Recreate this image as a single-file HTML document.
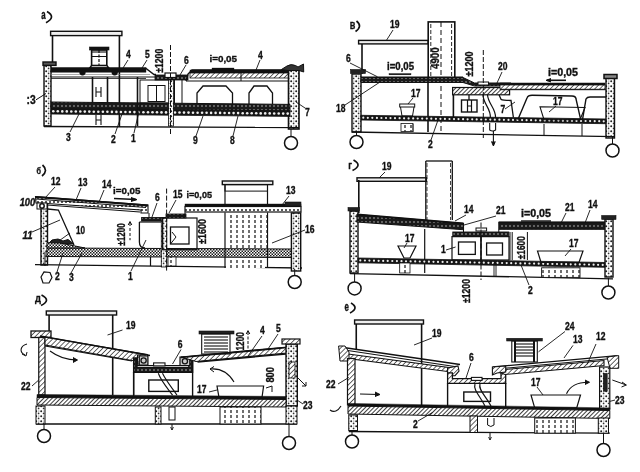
<!DOCTYPE html>
<html><head><meta charset="utf-8"><style>
html,body{margin:0;padding:0;background:#fff;}
svg{display:block;will-change:transform;}
text{font-family:"Liberation Sans",sans-serif;fill:#111;stroke:#111;stroke-width:0.35px;}
</style></head><body>
<svg width="640" height="472" viewBox="0 0 640 472">
<rect width="640" height="472" fill="#fff"/>

<defs>
<pattern id="hatch" width="3.5" height="3.5" patternUnits="userSpaceOnUse" patternTransform="rotate(45)">
 <rect width="3.5" height="3.5" fill="#fff"/><line x1="0" y1="0" x2="0" y2="3.5" stroke="#222" stroke-width="1.4"/>
</pattern>
<pattern id="hatchd" width="3" height="3" patternUnits="userSpaceOnUse" patternTransform="rotate(45)">
 <rect width="3" height="3" fill="#fff"/><line x1="0" y1="0" x2="0" y2="3" stroke="#1a1a1a" stroke-width="1.7"/>
</pattern>
<pattern id="chk" width="3" height="3" patternUnits="userSpaceOnUse">
 <rect width="3" height="3" fill="#fff"/><rect width="1.5" height="1.5" fill="#1a1a1a"/><rect x="1.5" y="1.5" width="1.5" height="1.5" fill="#1a1a1a"/>
</pattern>
<pattern id="conc" width="5" height="5" patternUnits="userSpaceOnUse">
 <rect width="5" height="5" fill="#fff"/><circle cx="1.2" cy="1.3" r="1.0" fill="#222"/><circle cx="3.6" cy="3.4" r="0.85" fill="#333"/><circle cx="3.9" cy="0.9" r="0.5" fill="#444"/>
</pattern>
<pattern id="darkdots" width="4" height="4" patternUnits="userSpaceOnUse">
 <rect width="4" height="4" fill="#1a1a1a"/><circle cx="2" cy="2" r="0.8" fill="#bbb"/>
</pattern>
<pattern id="dots" width="4" height="4" patternUnits="userSpaceOnUse">
 <rect width="4" height="4" fill="#fff"/><circle cx="2" cy="2" r="1" fill="#222"/>
</pattern>
<pattern id="vdash" width="6" height="5" patternUnits="userSpaceOnUse">
 <rect width="6" height="5" fill="#fff"/><line x1="3" y1="0" x2="3" y2="3" stroke="#222" stroke-width="1.3"/>
</pattern>
</defs>
<text x="0" y="0" font-size="12.125" font-weight="bold" text-anchor="start" transform="translate(41.3 19.3) scale(0.65 1)" style="">a</text>
<path d="M47,11.5 Q56.5,16.9 46,22.8" stroke="#111" stroke-width="1.7" fill="none"/>
<rect x="50.6" y="31.3" width="71.3" height="4.3" fill="#eee" stroke="#111" stroke-width="1.4"/>
<line x1="52.5" y1="35.6" x2="52.5" y2="64" stroke="#111" stroke-width="1.6"/>
<line x1="119.4" y1="35.6" x2="119.4" y2="127" stroke="#111" stroke-width="1.6"/>
<rect x="89.5" y="47" width="19.5" height="3" fill="#111" stroke="#111" stroke-width="0.6"/>
<rect x="91.6" y="50" width="15.2" height="15.5" fill="none" stroke="#111" stroke-width="1.6"/>
<path d="M91.6,65.5 L89.5,68 L109,68 L106.8,65.5" stroke="#111" stroke-width="1.3" fill="none"/>
<line x1="99" y1="50" x2="99" y2="65.5" stroke="#111" stroke-width="1.2" stroke-dasharray="3,1.5"/>
<line x1="92" y1="52" x2="106.5" y2="52" stroke="#111" stroke-width="1.1"/>
<line x1="92" y1="56.5" x2="106.5" y2="56.5" stroke="#111" stroke-width="1"/>
<line x1="92.5" y1="77" x2="92.5" y2="102.5" stroke="#111" stroke-width="1.6"/>
<line x1="107.5" y1="77" x2="107.5" y2="102.5" stroke="#111" stroke-width="1.6"/>
<line x1="96" y1="87" x2="96" y2="97" stroke="#111" stroke-width="1.1"/>
<line x1="101" y1="87" x2="101" y2="97" stroke="#111" stroke-width="1.1"/>
<line x1="96" y1="92" x2="101" y2="92" stroke="#111" stroke-width="1"/>
<line x1="96" y1="115" x2="96" y2="125" stroke="#111" stroke-width="1.1"/>
<line x1="101" y1="115" x2="101" y2="125" stroke="#111" stroke-width="1.1"/>
<line x1="96" y1="120" x2="101" y2="120" stroke="#111" stroke-width="1"/>
<rect x="44" y="65" width="7" height="61" fill="url(#conc)" stroke="#111" stroke-width="1.4"/>
<rect x="43" y="62" width="13" height="3.4" fill="#555" stroke="#111" stroke-width="1.4"/>
<polyline points="51,68.5 146,68.5 154,74.5 156,74.5" stroke="#111" stroke-width="1.4" fill="none"/>
<rect x="51" y="67.6" width="95" height="4.6" fill="#111" stroke="#111" stroke-width="0.4"/>
<line x1="51" y1="74.5" x2="150" y2="74.5" stroke="#777" stroke-width="0.6"/>
<line x1="51" y1="77" x2="156" y2="77" stroke="#111" stroke-width="1.2"/>
<circle cx="82.5" cy="72.3" r="2.4" stroke="#111" stroke-width="1.5" fill="#111"/>
<circle cx="114.7" cy="72.3" r="2.4" stroke="#111" stroke-width="1.5" fill="#111"/>
<rect x="155" y="75" width="33" height="5" fill="url(#darkdots)" stroke="#111" stroke-width="0.8"/>
<rect x="165" y="73" width="11" height="4.5" fill="#fff" stroke="#111" stroke-width="1.2"/>
<polyline points="186,81 188,74 192,70 289,70" stroke="#111" stroke-width="1.4" fill="none"/>
<rect x="190" y="70" width="99" height="3" fill="#111" stroke="#111" stroke-width="0.4"/>
<rect x="190" y="73" width="99" height="5" fill="url(#hatch)" stroke="#111" stroke-width="0.8"/>
<line x1="186" y1="81" x2="290" y2="81" stroke="#111" stroke-width="1.2"/>
<line x1="241" y1="72" x2="241" y2="81" stroke="#111" stroke-width="1"/>
<rect x="288.5" y="69.5" width="10.5" height="59.5" fill="url(#conc)" stroke="#111" stroke-width="1.6"/>
<path d="M281.4,69.5 L287,66 Q291,63.5 295.5,65.5 L298,67 L303.5,64 L303.7,72 L299,70.5 L288,70.5 Z" stroke="#111" stroke-width="1" fill="#333"/>
<line x1="51" y1="78.5" x2="146" y2="78.5" stroke="#111" stroke-width="0.8"/>
<polygon points="51,102 290,104.4 290,110.9 51,108.5" fill="url(#darkdots)" stroke="#111" stroke-width="1"/>
<polygon points="51,108.5 290,110.9 290,116.4 51,114.0" fill="#151515" stroke="#111" stroke-width="0.8"/>
<circle cx="53.3" cy="111.3" r="1.3" fill="#eee"/>
<circle cx="57.8" cy="111.3" r="1.3" fill="#eee"/>
<circle cx="62.3" cy="111.4" r="1.3" fill="#eee"/>
<circle cx="66.8" cy="111.4" r="1.3" fill="#eee"/>
<circle cx="71.3" cy="111.5" r="1.3" fill="#eee"/>
<circle cx="75.8" cy="111.5" r="1.3" fill="#eee"/>
<circle cx="80.3" cy="111.5" r="1.3" fill="#eee"/>
<circle cx="84.8" cy="111.6" r="1.3" fill="#eee"/>
<circle cx="89.3" cy="111.6" r="1.3" fill="#eee"/>
<circle cx="93.8" cy="111.7" r="1.3" fill="#eee"/>
<circle cx="98.3" cy="111.7" r="1.3" fill="#eee"/>
<circle cx="102.9" cy="111.8" r="1.3" fill="#eee"/>
<circle cx="107.4" cy="111.8" r="1.3" fill="#eee"/>
<circle cx="111.9" cy="111.9" r="1.3" fill="#eee"/>
<circle cx="116.4" cy="111.9" r="1.3" fill="#eee"/>
<circle cx="120.9" cy="112.0" r="1.3" fill="#eee"/>
<circle cx="125.4" cy="112.0" r="1.3" fill="#eee"/>
<circle cx="129.9" cy="112.0" r="1.3" fill="#eee"/>
<circle cx="134.4" cy="112.1" r="1.3" fill="#eee"/>
<circle cx="138.9" cy="112.1" r="1.3" fill="#eee"/>
<circle cx="143.4" cy="112.2" r="1.3" fill="#eee"/>
<circle cx="148.0" cy="112.2" r="1.3" fill="#eee"/>
<circle cx="152.5" cy="112.3" r="1.3" fill="#eee"/>
<circle cx="157.0" cy="112.3" r="1.3" fill="#eee"/>
<circle cx="161.5" cy="112.4" r="1.3" fill="#eee"/>
<circle cx="166.0" cy="112.4" r="1.3" fill="#eee"/>
<circle cx="170.5" cy="112.5" r="1.3" fill="#eee"/>
<circle cx="175.0" cy="112.5" r="1.3" fill="#eee"/>
<circle cx="179.5" cy="112.5" r="1.3" fill="#eee"/>
<circle cx="184.0" cy="112.6" r="1.3" fill="#eee"/>
<circle cx="188.5" cy="112.6" r="1.3" fill="#eee"/>
<circle cx="193.0" cy="112.7" r="1.3" fill="#eee"/>
<circle cx="197.6" cy="112.7" r="1.3" fill="#eee"/>
<circle cx="202.1" cy="112.8" r="1.3" fill="#eee"/>
<circle cx="206.6" cy="112.8" r="1.3" fill="#eee"/>
<circle cx="211.1" cy="112.9" r="1.3" fill="#eee"/>
<circle cx="215.6" cy="112.9" r="1.3" fill="#eee"/>
<circle cx="220.1" cy="112.9" r="1.3" fill="#eee"/>
<circle cx="224.6" cy="113.0" r="1.3" fill="#eee"/>
<circle cx="229.1" cy="113.0" r="1.3" fill="#eee"/>
<circle cx="233.6" cy="113.1" r="1.3" fill="#eee"/>
<circle cx="238.1" cy="113.1" r="1.3" fill="#eee"/>
<circle cx="242.7" cy="113.2" r="1.3" fill="#eee"/>
<circle cx="247.2" cy="113.2" r="1.3" fill="#eee"/>
<circle cx="251.7" cy="113.3" r="1.3" fill="#eee"/>
<circle cx="256.2" cy="113.3" r="1.3" fill="#eee"/>
<circle cx="260.7" cy="113.4" r="1.3" fill="#eee"/>
<circle cx="265.2" cy="113.4" r="1.3" fill="#eee"/>
<circle cx="269.7" cy="113.4" r="1.3" fill="#eee"/>
<circle cx="274.2" cy="113.5" r="1.3" fill="#eee"/>
<circle cx="278.7" cy="113.5" r="1.3" fill="#eee"/>
<circle cx="283.2" cy="113.6" r="1.3" fill="#eee"/>
<circle cx="287.7" cy="113.6" r="1.3" fill="#eee"/>
<line x1="44" y1="126.5" x2="299" y2="127.5" stroke="#111" stroke-width="1.3"/>
<line x1="137.5" y1="77" x2="137.5" y2="126" stroke="#111" stroke-width="1.6"/>
<rect x="140" y="80" width="34.5" height="23" fill="none" stroke="#111" stroke-width="1"/>
<rect x="148" y="85.5" width="17" height="16" fill="none" stroke="#111" stroke-width="1"/>
<line x1="156.5" y1="85.5" x2="156.5" y2="101.5" stroke="#111" stroke-width="1"/>
<rect x="168.5" y="80" width="5" height="46" fill="url(#conc)" stroke="#111" stroke-width="0.8"/>
<line x1="170.5" y1="45" x2="170.5" y2="136" stroke="#111" stroke-width="1" stroke-dasharray="5,2"/>
<line x1="182" y1="80" x2="182" y2="103" stroke="#111" stroke-width="1"/>
<path d="M197,104 L197,93 L203,86 L226,86 L232.5,93 L232.5,104" stroke="#111" stroke-width="1.3" fill="none"/>
<path d="M249,104 L249,93 L254,86 L267,86 L272.5,93 L272.5,104" stroke="#111" stroke-width="1.3" fill="none"/>
<line x1="291" y1="129" x2="291" y2="136.5" stroke="#111" stroke-width="1"/>
<circle cx="291" cy="143" r="6.5" stroke="#111" stroke-width="1.5" fill="none"/>
<rect x="212" y="68" width="22" height="2" fill="#111" stroke="#111" stroke-width="0.3"/>
<text x="0" y="0" font-size="12.125" font-weight="bold" text-anchor="start" transform="translate(26.5 103.6) scale(0.85 1)" style="">:3</text>
<line x1="36" y1="99.8" x2="46" y2="93.5" stroke="#111" stroke-width="1"/>
<text x="0" y="0" font-size="10.67" font-weight="bold" text-anchor="start" transform="translate(66 141) scale(0.8 1)" style="">3</text>
<line x1="70" y1="132" x2="79" y2="114" stroke="#111" stroke-width="0.9"/>
<text x="0" y="0" font-size="10.67" font-weight="bold" text-anchor="start" transform="translate(111 143) scale(0.8 1)" style="">2</text>
<line x1="115" y1="134" x2="122" y2="114" stroke="#111" stroke-width="0.9"/>
<text x="0" y="0" font-size="10.67" font-weight="bold" text-anchor="start" transform="translate(131 142) scale(0.8 1)" style="">1</text>
<line x1="134" y1="133" x2="141" y2="103" stroke="#111" stroke-width="0.9"/>
<text x="0" y="0" font-size="10.67" font-weight="bold" text-anchor="start" transform="translate(126 58) scale(0.8 1)" style="">4</text>
<line x1="128" y1="60" x2="123" y2="68" stroke="#111" stroke-width="0.9"/>
<text x="0" y="0" font-size="10.67" font-weight="bold" text-anchor="start" transform="translate(145 58) scale(0.8 1)" style="">5</text>
<line x1="147" y1="60" x2="142" y2="68" stroke="#111" stroke-width="0.9"/>
<text x="0" y="0" font-size="10.67" font-weight="bold" text-anchor="start" transform="translate(163.4 72.8) rotate(-90)" style="" textLength="24" lengthAdjust="spacingAndGlyphs">±1200</text>
<text x="0" y="0" font-size="10.67" font-weight="bold" text-anchor="start" transform="translate(184 64) scale(0.8 1)" style="">6</text>
<line x1="186" y1="65" x2="180" y2="75" stroke="#111" stroke-width="0.9"/>
<text x="0" y="0" font-size="9.7" font-weight="bold" text-anchor="start" transform="translate(209.4 62.1)" style="" textLength="27.7" lengthAdjust="spacingAndGlyphs">i=0,05</text>
<text x="0" y="0" font-size="10.67" font-weight="bold" text-anchor="start" transform="translate(258 59) scale(0.8 1)" style="">4</text>
<line x1="260" y1="60" x2="256" y2="70" stroke="#111" stroke-width="0.9"/>
<text x="0" y="0" font-size="10.67" font-weight="bold" text-anchor="start" transform="translate(305 116) scale(0.8 1)" style="">7</text>
<line x1="305" y1="108" x2="296" y2="102" stroke="#111" stroke-width="0.9"/>
<text x="0" y="0" font-size="10.67" font-weight="bold" text-anchor="start" transform="translate(193 144) scale(0.8 1)" style="">9</text>
<line x1="196" y1="136" x2="203" y2="116" stroke="#111" stroke-width="0.9"/>
<text x="0" y="0" font-size="10.67" font-weight="bold" text-anchor="start" transform="translate(230 144) scale(0.8 1)" style="">8</text>
<line x1="233" y1="136" x2="238" y2="116" stroke="#111" stroke-width="0.9"/>
<text x="0" y="0" font-size="12.125" font-weight="bold" text-anchor="start" transform="translate(349.8 29.3) scale(0.75 1)" style="">в</text>
<path d="M356.5,21 Q363,26.2 355.5,31.5" stroke="#111" stroke-width="1.7" fill="none"/>
<text x="0" y="0" font-size="10.67" font-weight="bold" text-anchor="start" transform="translate(390 28) scale(0.8 1)" style="">19</text>
<line x1="393" y1="30" x2="386" y2="41" stroke="#111" stroke-width="0.9"/>
<rect x="358.6" y="40.4" width="69.6" height="3.5" fill="#eee" stroke="#111" stroke-width="1.4"/>
<line x1="362" y1="43.9" x2="362" y2="74" stroke="#111" stroke-width="1.6"/>
<rect x="428.2" y="21.9" width="26.6" height="56" fill="#fff" stroke="#111" stroke-width="1.6"/>
<line x1="430.8" y1="24" x2="430.8" y2="77" stroke="#111" stroke-width="0.9" stroke-dasharray="4,2"/>
<line x1="451.6" y1="24" x2="451.6" y2="77" stroke="#111" stroke-width="0.9" stroke-dasharray="4,2"/>
<line x1="441" y1="22" x2="441" y2="132" stroke="#111" stroke-width="1" stroke-dasharray="5,3"/>
<text x="0" y="0" font-size="10.67" font-weight="bold" text-anchor="start" transform="translate(439.4 68.9) rotate(-90)" style="" textLength="21.5" lengthAdjust="spacingAndGlyphs">4900</text>
<line x1="428" y1="82" x2="428" y2="132" stroke="#111" stroke-width="1.6"/>
<line x1="453.4" y1="94.8" x2="453.4" y2="117.5" stroke="#111" stroke-width="1.6"/>
<rect x="352" y="74" width="9" height="58" fill="url(#conc)" stroke="#111" stroke-width="1.4"/>
<rect x="350.5" y="69.5" width="15" height="4" fill="#222" stroke="#111" stroke-width="0.6"/>
<polygon points="361,77.5 463,77.5 474.5,83 511,83 511,86 474.5,86 463,82.5 361,82.5" fill="url(#darkdots)" stroke="#111" stroke-width="1"/>
<line x1="361" y1="77.3" x2="463" y2="77.3" stroke="#111" stroke-width="1.6"/>
<rect x="452.6" y="87.5" width="57" height="7.3" fill="url(#hatchd)" stroke="#111" stroke-width="1.2"/>
<rect x="478" y="82" width="10.5" height="3" fill="#fff" stroke="#111" stroke-width="1"/>
<rect x="500" y="83" width="105" height="2.2" fill="#111" stroke="#111" stroke-width="0.5"/>
<rect x="500" y="85" width="105" height="4.2" fill="url(#hatch)" stroke="#111" stroke-width="0.8"/>
<line x1="500" y1="89.7" x2="606" y2="89.7" stroke="#111" stroke-width="1"/>
<rect x="606" y="78" width="8.5" height="60" fill="url(#conc)" stroke="#111" stroke-width="1.4"/>
<rect x="604" y="74.5" width="13" height="4" fill="#888" stroke="#111" stroke-width="1.5"/>
<polygon points="361,115.3 606,119 606,123.7 361,120.0" fill="#151515" stroke="#111" stroke-width="0.8"/>
<circle cx="363.3" cy="117.7" r="1.1" fill="#eee"/>
<circle cx="367.8" cy="117.8" r="1.1" fill="#eee"/>
<circle cx="372.3" cy="117.8" r="1.1" fill="#eee"/>
<circle cx="376.9" cy="117.9" r="1.1" fill="#eee"/>
<circle cx="381.4" cy="118.0" r="1.1" fill="#eee"/>
<circle cx="386.0" cy="118.0" r="1.1" fill="#eee"/>
<circle cx="390.5" cy="118.1" r="1.1" fill="#eee"/>
<circle cx="395.0" cy="118.2" r="1.1" fill="#eee"/>
<circle cx="399.6" cy="118.2" r="1.1" fill="#eee"/>
<circle cx="404.1" cy="118.3" r="1.1" fill="#eee"/>
<circle cx="408.6" cy="118.4" r="1.1" fill="#eee"/>
<circle cx="413.2" cy="118.4" r="1.1" fill="#eee"/>
<circle cx="417.7" cy="118.5" r="1.1" fill="#eee"/>
<circle cx="422.2" cy="118.6" r="1.1" fill="#eee"/>
<circle cx="426.8" cy="118.6" r="1.1" fill="#eee"/>
<circle cx="431.3" cy="118.7" r="1.1" fill="#eee"/>
<circle cx="435.9" cy="118.8" r="1.1" fill="#eee"/>
<circle cx="440.4" cy="118.8" r="1.1" fill="#eee"/>
<circle cx="444.9" cy="118.9" r="1.1" fill="#eee"/>
<circle cx="449.5" cy="119.0" r="1.1" fill="#eee"/>
<circle cx="454.0" cy="119.1" r="1.1" fill="#eee"/>
<circle cx="458.5" cy="119.1" r="1.1" fill="#eee"/>
<circle cx="463.1" cy="119.2" r="1.1" fill="#eee"/>
<circle cx="467.6" cy="119.3" r="1.1" fill="#eee"/>
<circle cx="472.2" cy="119.3" r="1.1" fill="#eee"/>
<circle cx="476.7" cy="119.4" r="1.1" fill="#eee"/>
<circle cx="481.2" cy="119.5" r="1.1" fill="#eee"/>
<circle cx="485.8" cy="119.5" r="1.1" fill="#eee"/>
<circle cx="490.3" cy="119.6" r="1.1" fill="#eee"/>
<circle cx="494.8" cy="119.7" r="1.1" fill="#eee"/>
<circle cx="499.4" cy="119.7" r="1.1" fill="#eee"/>
<circle cx="503.9" cy="119.8" r="1.1" fill="#eee"/>
<circle cx="508.5" cy="119.9" r="1.1" fill="#eee"/>
<circle cx="513.0" cy="119.9" r="1.1" fill="#eee"/>
<circle cx="517.5" cy="120.0" r="1.1" fill="#eee"/>
<circle cx="522.1" cy="120.1" r="1.1" fill="#eee"/>
<circle cx="526.6" cy="120.2" r="1.1" fill="#eee"/>
<circle cx="531.1" cy="120.2" r="1.1" fill="#eee"/>
<circle cx="535.7" cy="120.3" r="1.1" fill="#eee"/>
<circle cx="540.2" cy="120.4" r="1.1" fill="#eee"/>
<circle cx="544.8" cy="120.4" r="1.1" fill="#eee"/>
<circle cx="549.3" cy="120.5" r="1.1" fill="#eee"/>
<circle cx="553.8" cy="120.6" r="1.1" fill="#eee"/>
<circle cx="558.4" cy="120.6" r="1.1" fill="#eee"/>
<circle cx="562.9" cy="120.7" r="1.1" fill="#eee"/>
<circle cx="567.4" cy="120.8" r="1.1" fill="#eee"/>
<circle cx="572.0" cy="120.8" r="1.1" fill="#eee"/>
<circle cx="576.5" cy="120.9" r="1.1" fill="#eee"/>
<circle cx="581.0" cy="121.0" r="1.1" fill="#eee"/>
<circle cx="585.6" cy="121.0" r="1.1" fill="#eee"/>
<circle cx="590.1" cy="121.1" r="1.1" fill="#eee"/>
<circle cx="594.7" cy="121.2" r="1.1" fill="#eee"/>
<circle cx="599.2" cy="121.2" r="1.1" fill="#eee"/>
<circle cx="603.7" cy="121.3" r="1.1" fill="#eee"/>
<line x1="352" y1="132" x2="614" y2="136.7" stroke="#111" stroke-width="1.3"/>
<rect x="399.7" y="104" width="15" height="3" fill="#fff" stroke="#111" stroke-width="1"/>
<path d="M400.5,107 L402,116 L412.5,116 L414,107" stroke="#111" stroke-width="1" fill="none"/>
<rect x="401" y="123.5" width="12" height="8" fill="url(#vdash)" stroke="#111" stroke-width="0.8"/>
<text x="0" y="0" font-size="10.67" font-weight="bold" text-anchor="start" transform="translate(411 97) scale(0.8 1)" style="">17</text>
<line x1="413" y1="98" x2="408" y2="104" stroke="#111" stroke-width="0.9"/>
<rect x="461.5" y="100" width="15.5" height="12" fill="none" stroke="#111" stroke-width="1.4"/>
<line x1="467.5" y1="100" x2="467.5" y2="112" stroke="#111" stroke-width="1.2"/>
<line x1="471.5" y1="100" x2="471.5" y2="112" stroke="#111" stroke-width="1.2"/>
<line x1="467.5" y1="106" x2="471.5" y2="106" stroke="#111" stroke-width="1"/>
<line x1="469" y1="94.8" x2="469" y2="100" stroke="#111" stroke-width="1.3"/>
<line x1="483.3" y1="50" x2="483.3" y2="138" stroke="#111" stroke-width="1" stroke-dasharray="5,2"/>
<line x1="493.4" y1="131" x2="493.4" y2="145" stroke="#111" stroke-width="1.1"/>
<path d="M491.5,141.5 L493.4,146 L495.3,141.5" stroke="#111" stroke-width="1" fill="#111"/>
<path d="M489.7,123 L489.7,130 Q492.6,132 495.6,130 L495.6,123" stroke="#111" stroke-width="1.1" fill="none"/>
<path d="M483,94.8 C483,104 491,108 490.4,118" stroke="#111" stroke-width="1.2" fill="none"/>
<path d="M487.5,94.8 C488,104 496,108 495.6,118" stroke="#111" stroke-width="1.2" fill="none"/>
<path d="M499,94.8 L501,99.3 Q503,100.3 511,100.5 L513.4,117.5" stroke="#111" stroke-width="1.3" fill="none"/>
<text x="0" y="0" font-size="10.67" font-weight="bold" text-anchor="start" transform="translate(500.5 112.6) scale(0.8 1)" style="">7</text>
<line x1="505" y1="109" x2="515" y2="102" stroke="#111" stroke-width="0.9"/>
<path d="M517.8,119.7 L527,98 Q528,95.3 532,95.3 L572,96 Q576,96.3 576,99 L580.7,119.7" stroke="#111" stroke-width="1.4" fill="none"/>
<path d="M540,106.8 L585,107.5 L580,119.7 L544,119.7 Z" stroke="#111" stroke-width="1.1" fill="none"/>
<text x="0" y="0" font-size="10.67" font-weight="bold" text-anchor="start" transform="translate(553 105) scale(0.8 1)" style="">17</text>
<line x1="556" y1="106" x2="549" y2="112" stroke="#111" stroke-width="0.9"/>
<path d="M582.5,119.7 L586,99 Q587,97 590,97 L606,97" stroke="#111" stroke-width="1.4" fill="none"/>
<line x1="544" y1="124" x2="544" y2="136" stroke="#111" stroke-width="1"/>
<line x1="582" y1="124" x2="582" y2="136" stroke="#111" stroke-width="1"/>
<line x1="413" y1="124" x2="413" y2="132" stroke="#111" stroke-width="0.8"/>
<line x1="356.5" y1="132" x2="356.5" y2="135" stroke="#111" stroke-width="1"/>
<circle cx="356.5" cy="142" r="6.5" stroke="#111" stroke-width="1.5" fill="none"/>
<line x1="612.5" y1="137" x2="612.5" y2="144" stroke="#111" stroke-width="1"/>
<circle cx="612.5" cy="150.5" r="6.5" stroke="#111" stroke-width="1.5" fill="none"/>
<text x="0" y="0" font-size="10.67" font-weight="bold" text-anchor="start" transform="translate(346 62) scale(0.8 1)" style="">6</text>
<line x1="350" y1="63" x2="377.5" y2="76.8" stroke="#111" stroke-width="0.9"/>
<text x="0" y="0" font-size="10.67" font-weight="bold" text-anchor="start" transform="translate(336 112) scale(0.8 1)" style="">18</text>
<line x1="345" y1="105" x2="379" y2="82.7" stroke="#111" stroke-width="0.9"/>
<text x="0" y="0" font-size="10.185" font-weight="bold" text-anchor="start" transform="translate(387 70)" style="" textLength="27" lengthAdjust="spacingAndGlyphs">i=0,05</text>
<rect x="389" y="73.5" width="22" height="1.4" fill="#111" stroke="#111" stroke-width="0.3"/>
<text x="0" y="0" font-size="10.67" font-weight="bold" text-anchor="start" transform="translate(428 148) scale(0.8 1)" style="">2</text>
<line x1="431" y1="140" x2="438" y2="120" stroke="#111" stroke-width="0.9"/>
<text x="0" y="0" font-size="10.67" font-weight="bold" text-anchor="start" transform="translate(473.1 76.5) rotate(-90)" style="" textLength="25" lengthAdjust="spacingAndGlyphs">±1200</text>
<text x="0" y="0" font-size="10.67" font-weight="bold" text-anchor="start" transform="translate(498 70) scale(0.8 1)" style="">20</text>
<line x1="502" y1="72" x2="497" y2="83" stroke="#111" stroke-width="0.9"/>
<text x="0" y="0" font-size="10.185" font-weight="bold" text-anchor="start" transform="translate(548 75.5)" style="" textLength="30" lengthAdjust="spacingAndGlyphs">i=0,05</text>
<path d="M547,80.3 L566,80.3" stroke="#111" stroke-width="1.6" fill="none"/>
<path d="M551,78.5 L546,80.3 L551,82" stroke="#111" stroke-width="1" fill="#111"/>
<text x="0" y="0" font-size="9.7" font-weight="bold" text-anchor="start" transform="translate(36.4 174) scale(0.75 1)" style="">б</text>
<path d="M42.5,165 Q48.75,170.5 42,176" stroke="#111" stroke-width="1.7" fill="none"/>
<text x="0" y="0" font-size="10.67" font-weight="bold" text-anchor="start" transform="translate(51 185) scale(0.8 1)" style="">12</text>
<line x1="55" y1="187" x2="45" y2="198" stroke="#111" stroke-width="0.9"/>
<text x="0" y="0" font-size="10.67" font-weight="bold" text-anchor="start" transform="translate(78 186) scale(0.8 1)" style="">13</text>
<line x1="81" y1="188" x2="76" y2="200" stroke="#111" stroke-width="0.9"/>
<text x="0" y="0" font-size="10.67" font-weight="bold" text-anchor="start" transform="translate(102 188) scale(0.8 1)" style="">14</text>
<line x1="104" y1="190" x2="99" y2="202" stroke="#111" stroke-width="0.9"/>
<text x="0" y="0" font-size="9.7" font-weight="bold" text-anchor="start" transform="translate(113 194)" style="" textLength="27.5" lengthAdjust="spacingAndGlyphs">i=0,05</text>
<path d="M114,198.6 L136,199.5" stroke="#111" stroke-width="1.5" fill="none"/>
<path d="M131,197.5 L137,199.6 L131,201.5" stroke="#111" stroke-width="1" fill="#111"/>
<text x="0" y="0" font-size="10.185" font-weight="bold" text-anchor="start" transform="translate(19.7 206.3)" style="font-style:italic" textLength="15.5" lengthAdjust="spacingAndGlyphs">100</text>
<polygon points="35.5,196.5 148,205 148,213 141,213 141,210 47,203.5 36,203" fill="url(#dots)" stroke="#111" stroke-width="1.1"/>
<path d="M35.5,197 L148,205.5" stroke="#111" stroke-width="2.2" fill="none"/>
<path d="M36,199 L146,207.5" stroke="#111" stroke-width="1" fill="none"/>
<path d="M47,205 L140,212" stroke="#111" stroke-width="1.2" fill="none"/>
<rect x="141.6" y="217.5" width="25" height="3.5" fill="url(#darkdots)" stroke="#111" stroke-width="0.9"/>
<line x1="149" y1="213" x2="149" y2="218" stroke="#111" stroke-width="1"/>
<rect x="41" y="204" width="6.5" height="61" fill="url(#conc)" stroke="#111" stroke-width="1.4"/>
<rect x="37" y="203" width="10" height="6" fill="#fff" stroke="#111" stroke-width="1"/>
<circle cx="42" cy="206" r="2.2" stroke="#111" stroke-width="1.5" fill="none"/>
<polyline points="47.5,209 58.4,210 74,245" stroke="#111" stroke-width="1.3" fill="none"/>
<line x1="32" y1="232" x2="60" y2="220" stroke="#111" stroke-width="0.9"/>
<text x="0" y="0" font-size="10.185" font-weight="bold" text-anchor="start" transform="translate(22.5 239.4)" style="font-style:italic" textLength="10" lengthAdjust="spacingAndGlyphs">11</text>
<path d="M48,244 L52,240 L58,239 L63,241 L68,239.5 L73.8,244 Z" stroke="#111" stroke-width="1" fill="#222"/>
<text x="0" y="0" font-size="10.185" font-weight="bold" text-anchor="start" transform="translate(76 233.8) scale(0.8 1)" style="">10</text>
<line x1="70" y1="233" x2="59.4" y2="240.6" stroke="#111" stroke-width="0.9"/>
<polygon points="47,248 292,249 292,257.5 47,256.5" fill="url(#chk)" stroke="#111" stroke-width="1"/>
<polygon points="47,242.7 60,243 85,248 47,248" fill="url(#chk)" stroke="#111" stroke-width="1"/>
<line x1="35" y1="264.7" x2="302" y2="268" stroke="#111" stroke-width="1.3"/>
<line x1="45" y1="252" x2="45" y2="266" stroke="#111" stroke-width="1"/>
<path d="M41,277 L44,272 L50,272.5 L52,277.5 L49,283 L43,283 Z" stroke="#111" stroke-width="1.2" fill="none"/>
<text x="0" y="0" font-size="10.67" font-weight="bold" text-anchor="start" transform="translate(55 280) scale(0.8 1)" style="">2</text>
<line x1="57" y1="272" x2="63" y2="253" stroke="#111" stroke-width="0.9"/>
<text x="0" y="0" font-size="10.67" font-weight="bold" text-anchor="start" transform="translate(69 281) scale(0.8 1)" style="">3</text>
<line x1="71" y1="273" x2="82" y2="253" stroke="#111" stroke-width="0.9"/>
<text x="0" y="0" font-size="10.67" font-weight="bold" text-anchor="start" transform="translate(128 280) scale(0.8 1)" style="">1</text>
<line x1="131" y1="271" x2="146" y2="240" stroke="#111" stroke-width="0.9"/>
<text x="0" y="0" font-size="10.67" font-weight="bold" text-anchor="start" transform="translate(124.8 245.7) rotate(-90)" style="" textLength="22.6" lengthAdjust="spacingAndGlyphs">±1200</text>
<line x1="130" y1="223" x2="130" y2="240.2" stroke="#111" stroke-width="1" stroke-dasharray="3,2"/>
<path d="M128.2,225 L130,221.5 L131.8,225" stroke="#111" stroke-width="1" fill="none"/>
<path d="M139.4,222 L139.4,242 Q139.4,248 145,248" stroke="#111" stroke-width="1.3" fill="none"/>
<line x1="139.4" y1="222" x2="161" y2="222" stroke="#111" stroke-width="1.2"/>
<rect x="161.3" y="218" width="5.5" height="49" fill="url(#conc)" stroke="#111" stroke-width="0.8"/>
<line x1="166.6" y1="188.6" x2="166.6" y2="271" stroke="#111" stroke-width="1" stroke-dasharray="5,2"/>
<text x="0" y="0" font-size="10.67" font-weight="bold" text-anchor="start" transform="translate(155 201) scale(0.8 1)" style="">6</text>
<line x1="157" y1="203" x2="152" y2="217" stroke="#111" stroke-width="0.9"/>
<rect x="162.6" y="218" width="34.4" height="31.7" fill="none" stroke="#111" stroke-width="1.2"/>
<rect x="170.5" y="227" width="18.5" height="17" fill="#fff" stroke="#111" stroke-width="1.3"/>
<path d="M170.5,244 L176,237 L172,232" stroke="#111" stroke-width="1" fill="none"/>
<rect x="166" y="214" width="20" height="4" fill="url(#darkdots)" stroke="#111" stroke-width="0.8"/>
<text x="0" y="0" font-size="10.67" font-weight="bold" text-anchor="start" transform="translate(173 198) scale(0.8 1)" style="">15</text>
<line x1="176" y1="200" x2="169" y2="213" stroke="#111" stroke-width="0.9"/>
<text x="0" y="0" font-size="9.7" font-weight="bold" text-anchor="start" transform="translate(186.5 197.5)" style="" textLength="25.5" lengthAdjust="spacingAndGlyphs">i=0,05</text>
<text x="0" y="0" font-size="10.67" font-weight="bold" text-anchor="start" transform="translate(206 244) rotate(-90)" style="" textLength="25" lengthAdjust="spacingAndGlyphs">±1600</text>
<rect x="185" y="204" width="116" height="2.5" fill="#111" stroke="#111" stroke-width="0.4"/>
<rect x="185" y="206.5" width="116" height="5.5" fill="url(#dots)" stroke="#111" stroke-width="1.2"/>
<path d="M185,212.5 L185,216 L178,216" stroke="#111" stroke-width="1.1" fill="none"/>
<rect x="222.3" y="181" width="50.5" height="3.6" fill="#eee" stroke="#111" stroke-width="1.4"/>
<rect x="225" y="184.6" width="42.5" height="6.5" fill="none" stroke="#111" stroke-width="1"/>
<line x1="225" y1="184" x2="225" y2="204" stroke="#111" stroke-width="1.2"/>
<line x1="267.5" y1="184" x2="267.5" y2="204" stroke="#111" stroke-width="1.2"/>
<line x1="225" y1="212.5" x2="225" y2="268" stroke="#111" stroke-width="1.2"/>
<line x1="267.5" y1="212.5" x2="267.5" y2="268" stroke="#111" stroke-width="1.2"/>
<rect x="226" y="213" width="41" height="35" fill="url(#vdash)" stroke="none" stroke-width="1.4"/>
<rect x="226" y="258" width="39" height="10" fill="url(#vdash)" stroke="none" stroke-width="1.4"/>
<rect x="291.4" y="213" width="9.3" height="58" fill="url(#conc)" stroke="#111" stroke-width="1.4"/>
<rect x="285" y="202" width="16" height="4" fill="#222" stroke="#111" stroke-width="0.6"/>
<text x="0" y="0" font-size="10.67" font-weight="bold" text-anchor="start" transform="translate(286 194) scale(0.8 1)" style="">13</text>
<line x1="289" y1="196" x2="282" y2="205" stroke="#111" stroke-width="0.9"/>
<text x="0" y="0" font-size="10.67" font-weight="bold" text-anchor="start" transform="translate(305 233) scale(0.8 1)" style="">16</text>
<line x1="305" y1="230" x2="272" y2="243" stroke="#111" stroke-width="0.9"/>
<line x1="294.7" y1="269" x2="294.7" y2="275" stroke="#111" stroke-width="1"/>
<circle cx="294.7" cy="282" r="6.5" stroke="#111" stroke-width="1.5" fill="none"/>
<rect x="168" y="257" width="8" height="9" fill="url(#vdash)" stroke="#111" stroke-width="0.8"/>
<line x1="150.5" y1="257" x2="150.5" y2="266" stroke="#111" stroke-width="1.2"/>
<text x="0" y="0" font-size="11.155" font-weight="bold" text-anchor="start" transform="translate(348.2 168.8) scale(0.8 1)" style="">г</text>
<path d="M353.5,160 Q363,165.2 352.5,170.5" stroke="#111" stroke-width="1.7" fill="none"/>
<text x="0" y="0" font-size="10.67" font-weight="bold" text-anchor="start" transform="translate(382 170) scale(0.8 1)" style="">19</text>
<line x1="385" y1="172" x2="378" y2="179" stroke="#111" stroke-width="0.9"/>
<rect x="357" y="177.8" width="69.4" height="3.5" fill="#eee" stroke="#111" stroke-width="1.4"/>
<line x1="358.8" y1="180" x2="358.8" y2="213" stroke="#111" stroke-width="1.6"/>
<line x1="425.8" y1="161" x2="425.8" y2="220" stroke="#111" stroke-width="1.3"/>
<line x1="452.3" y1="161" x2="452.3" y2="220" stroke="#111" stroke-width="1.3"/>
<line x1="425.8" y1="161" x2="452.3" y2="161" stroke="#111" stroke-width="1.3"/>
<line x1="427" y1="163" x2="427" y2="220" stroke="#111" stroke-width="0.8" stroke-dasharray="4,2"/>
<line x1="450.5" y1="163" x2="450.5" y2="220" stroke="#111" stroke-width="0.8" stroke-dasharray="4,2"/>
<rect x="350" y="211" width="8" height="62" fill="url(#conc)" stroke="#111" stroke-width="1.4"/>
<rect x="348" y="207.5" width="11.5" height="3.5" fill="#222" stroke="#111" stroke-width="0.6"/>
<polygon points="357,214.5 463.5,223.5 463.5,229.7 357,222" fill="url(#darkdots)" stroke="#111" stroke-width="1.1"/>
<path d="M357,214.5 L463.5,223.5" stroke="#111" stroke-width="1.8" fill="none"/>
<rect x="452.8" y="232" width="56" height="4.6" fill="url(#darkdots)" stroke="#111" stroke-width="0.9"/>
<rect x="476" y="228" width="10.6" height="3" fill="#fff" stroke="#111" stroke-width="1"/>
<path d="M463.5,229.7 L463.5,232" stroke="#111" stroke-width="1" fill="none"/>
<rect x="452" y="236.6" width="29" height="23.4" fill="none" stroke="#111" stroke-width="1.2"/>
<rect x="458.5" y="242" width="16.8" height="12.4" fill="none" stroke="#111" stroke-width="1.3"/>
<rect x="481" y="236.6" width="28" height="23.4" fill="none" stroke="#111" stroke-width="1.2"/>
<rect x="486.6" y="243" width="15.9" height="12" fill="none" stroke="#111" stroke-width="1.3"/>
<line x1="481" y1="222.5" x2="481" y2="280" stroke="#111" stroke-width="1" stroke-dasharray="5,2"/>
<line x1="510" y1="232" x2="510" y2="260" stroke="#111" stroke-width="1"/>
<line x1="512.2" y1="232" x2="512.2" y2="260" stroke="#111" stroke-width="1"/>
<line x1="527.4" y1="232" x2="527.4" y2="260" stroke="#111" stroke-width="1"/>
<line x1="424.7" y1="229" x2="424.7" y2="273" stroke="#111" stroke-width="1.2"/>
<rect x="498.8" y="222.3" width="106" height="7" fill="url(#darkdots)" stroke="#111" stroke-width="1"/>
<path d="M498.8,222.3 L605,222.3" stroke="#111" stroke-width="1.8" fill="none"/>
<line x1="498.8" y1="229.3" x2="498.8" y2="232" stroke="#111" stroke-width="1"/>
<rect x="605" y="219" width="8" height="58" fill="url(#conc)" stroke="#111" stroke-width="1.4"/>
<rect x="601.7" y="215.5" width="14.3" height="4" fill="#222" stroke="#111" stroke-width="0.6"/>
<polygon points="358,258 605,262.5 605,267.3 358,262.8" fill="#151515" stroke="#111" stroke-width="0.8"/>
<circle cx="360.3" cy="260.4" r="1.1" fill="#eee"/>
<circle cx="364.9" cy="260.5" r="1.1" fill="#eee"/>
<circle cx="369.4" cy="260.6" r="1.1" fill="#eee"/>
<circle cx="374.0" cy="260.7" r="1.1" fill="#eee"/>
<circle cx="378.6" cy="260.8" r="1.1" fill="#eee"/>
<circle cx="383.2" cy="260.9" r="1.1" fill="#eee"/>
<circle cx="387.7" cy="260.9" r="1.1" fill="#eee"/>
<circle cx="392.3" cy="261.0" r="1.1" fill="#eee"/>
<circle cx="396.9" cy="261.1" r="1.1" fill="#eee"/>
<circle cx="401.5" cy="261.2" r="1.1" fill="#eee"/>
<circle cx="406.0" cy="261.3" r="1.1" fill="#eee"/>
<circle cx="410.6" cy="261.4" r="1.1" fill="#eee"/>
<circle cx="415.2" cy="261.4" r="1.1" fill="#eee"/>
<circle cx="419.8" cy="261.5" r="1.1" fill="#eee"/>
<circle cx="424.3" cy="261.6" r="1.1" fill="#eee"/>
<circle cx="428.9" cy="261.7" r="1.1" fill="#eee"/>
<circle cx="433.5" cy="261.8" r="1.1" fill="#eee"/>
<circle cx="438.0" cy="261.9" r="1.1" fill="#eee"/>
<circle cx="442.6" cy="261.9" r="1.1" fill="#eee"/>
<circle cx="447.2" cy="262.0" r="1.1" fill="#eee"/>
<circle cx="451.8" cy="262.1" r="1.1" fill="#eee"/>
<circle cx="456.3" cy="262.2" r="1.1" fill="#eee"/>
<circle cx="460.9" cy="262.3" r="1.1" fill="#eee"/>
<circle cx="465.5" cy="262.4" r="1.1" fill="#eee"/>
<circle cx="470.1" cy="262.4" r="1.1" fill="#eee"/>
<circle cx="474.6" cy="262.5" r="1.1" fill="#eee"/>
<circle cx="479.2" cy="262.6" r="1.1" fill="#eee"/>
<circle cx="483.8" cy="262.7" r="1.1" fill="#eee"/>
<circle cx="488.4" cy="262.8" r="1.1" fill="#eee"/>
<circle cx="492.9" cy="262.9" r="1.1" fill="#eee"/>
<circle cx="497.5" cy="262.9" r="1.1" fill="#eee"/>
<circle cx="502.1" cy="263.0" r="1.1" fill="#eee"/>
<circle cx="506.7" cy="263.1" r="1.1" fill="#eee"/>
<circle cx="511.2" cy="263.2" r="1.1" fill="#eee"/>
<circle cx="515.8" cy="263.3" r="1.1" fill="#eee"/>
<circle cx="520.4" cy="263.4" r="1.1" fill="#eee"/>
<circle cx="525.0" cy="263.4" r="1.1" fill="#eee"/>
<circle cx="529.5" cy="263.5" r="1.1" fill="#eee"/>
<circle cx="534.1" cy="263.6" r="1.1" fill="#eee"/>
<circle cx="538.7" cy="263.7" r="1.1" fill="#eee"/>
<circle cx="543.2" cy="263.8" r="1.1" fill="#eee"/>
<circle cx="547.8" cy="263.9" r="1.1" fill="#eee"/>
<circle cx="552.4" cy="263.9" r="1.1" fill="#eee"/>
<circle cx="557.0" cy="264.0" r="1.1" fill="#eee"/>
<circle cx="561.5" cy="264.1" r="1.1" fill="#eee"/>
<circle cx="566.1" cy="264.2" r="1.1" fill="#eee"/>
<circle cx="570.7" cy="264.3" r="1.1" fill="#eee"/>
<circle cx="575.3" cy="264.4" r="1.1" fill="#eee"/>
<circle cx="579.8" cy="264.4" r="1.1" fill="#eee"/>
<circle cx="584.4" cy="264.5" r="1.1" fill="#eee"/>
<circle cx="589.0" cy="264.6" r="1.1" fill="#eee"/>
<circle cx="593.6" cy="264.7" r="1.1" fill="#eee"/>
<circle cx="598.1" cy="264.8" r="1.1" fill="#eee"/>
<circle cx="602.7" cy="264.9" r="1.1" fill="#eee"/>
<line x1="350" y1="273.6" x2="613" y2="278.8" stroke="#111" stroke-width="1.3"/>
<path d="M398,246 L416,246 L410,258 L404,258 Z" stroke="#111" stroke-width="1.2" fill="none"/>
<rect x="399.7" y="263" width="10.3" height="10" fill="url(#vdash)" stroke="#111" stroke-width="0.8"/>
<text x="0" y="0" font-size="10.67" font-weight="bold" text-anchor="start" transform="translate(405 241.6) scale(0.8 1)" style="">17</text>
<line x1="407" y1="243" x2="404" y2="248" stroke="#111" stroke-width="0.9"/>
<path d="M537.5,251 L583,251 L579,262.3 L541,262.3 Z" stroke="#111" stroke-width="1.2" fill="none"/>
<rect x="541.6" y="267.8" width="38.4" height="9.6" fill="url(#vdash)" stroke="#111" stroke-width="0.9"/>
<text x="0" y="0" font-size="10.67" font-weight="bold" text-anchor="start" transform="translate(569 247) scale(0.8 1)" style="">17</text>
<line x1="571" y1="249" x2="565" y2="256" stroke="#111" stroke-width="0.9"/>
<line x1="494" y1="263" x2="494" y2="276" stroke="#111" stroke-width="0.9"/>
<line x1="496" y1="263" x2="496" y2="276" stroke="#111" stroke-width="0.9"/>
<line x1="354.6" y1="273" x2="354.6" y2="282" stroke="#111" stroke-width="1"/>
<circle cx="354.6" cy="288.4" r="6.5" stroke="#111" stroke-width="1.5" fill="none"/>
<line x1="608.4" y1="278" x2="608.4" y2="286" stroke="#111" stroke-width="1"/>
<circle cx="608.4" cy="292.5" r="6.5" stroke="#111" stroke-width="1.5" fill="none"/>
<text x="0" y="0" font-size="10.67" font-weight="bold" text-anchor="start" transform="translate(464 213) scale(0.8 1)" style="">14</text>
<line x1="466" y1="215" x2="455" y2="221" stroke="#111" stroke-width="0.9"/>
<text x="0" y="0" font-size="10.67" font-weight="bold" text-anchor="start" transform="translate(496 214) scale(0.8 1)" style="">21</text>
<line x1="496" y1="216" x2="463" y2="225.3" stroke="#111" stroke-width="0.9"/>
<text x="0" y="0" font-size="10.67" font-weight="bold" text-anchor="start" transform="translate(441 253) scale(0.8 1)" style="">1</text>
<line x1="446" y1="250" x2="455.6" y2="247" stroke="#111" stroke-width="0.9"/>
<text x="0" y="0" font-size="10.185" font-weight="bold" text-anchor="start" transform="translate(521 216.5)" style="" textLength="30" lengthAdjust="spacingAndGlyphs">i=0,05</text>
<line x1="521" y1="221" x2="551" y2="221" stroke="#111" stroke-width="1.4"/>
<text x="0" y="0" font-size="10.67" font-weight="bold" text-anchor="start" transform="translate(565 211) scale(0.8 1)" style="">21</text>
<line x1="566" y1="213" x2="561" y2="223" stroke="#111" stroke-width="0.9"/>
<text x="0" y="0" font-size="10.67" font-weight="bold" text-anchor="start" transform="translate(588 208) scale(0.8 1)" style="">14</text>
<line x1="590" y1="210" x2="585" y2="223" stroke="#111" stroke-width="0.9"/>
<text x="0" y="0" font-size="10.67" font-weight="bold" text-anchor="start" transform="translate(525.2 259.2) rotate(-90)" style="" textLength="23" lengthAdjust="spacingAndGlyphs">±1600</text>
<text x="0" y="0" font-size="10.67" font-weight="bold" text-anchor="start" transform="translate(469.5 303) rotate(-90)" style="" textLength="24" lengthAdjust="spacingAndGlyphs">±1200</text>
<text x="0" y="0" font-size="10.67" font-weight="bold" text-anchor="start" transform="translate(528 294) scale(0.8 1)" style="">2</text>
<line x1="529" y1="285" x2="521" y2="265" stroke="#111" stroke-width="0.9"/>
<text x="0" y="0" font-size="11.64" font-weight="bold" text-anchor="start" transform="translate(35 301.5) scale(0.8 1)" style="">д</text>
<path d="M41.5,295 Q51.75,300.3 41,305.6" stroke="#111" stroke-width="1.7" fill="none"/>
<text x="0" y="0" font-size="10.67" font-weight="bold" text-anchor="start" transform="translate(126 329) scale(0.8 1)" style="">19</text>
<line x1="122.5" y1="330" x2="107.5" y2="335" stroke="#111" stroke-width="0.9"/>
<rect x="46.3" y="311" width="70.3" height="4" fill="#eee" stroke="#111" stroke-width="1.4"/>
<line x1="49.1" y1="315" x2="49.1" y2="337.5" stroke="#111" stroke-width="1.6"/>
<line x1="112.7" y1="315" x2="112.7" y2="395" stroke="#111" stroke-width="1.6"/>
<rect x="31" y="331" width="20" height="6.5" fill="url(#hatch)" stroke="#111" stroke-width="1.3"/>
<rect x="38.75" y="337.5" width="6.25" height="57.5" fill="url(#hatch)" stroke="#111" stroke-width="1.2"/>
<polygon points="45,337 147,354.5 147,359 132,360.5 45,345" fill="url(#hatch)" stroke="#111" stroke-width="1.1"/>
<path d="M40,336 L150,355.5" stroke="#111" stroke-width="1.5" fill="none"/>
<path d="M45,346 L132,361" stroke="#111" stroke-width="1.2" fill="none"/>
<rect x="137.5" y="355" width="10" height="9" fill="url(#hatch)" stroke="#111" stroke-width="1.2"/>
<line x1="133.75" y1="360" x2="133.75" y2="395" stroke="#111" stroke-width="1.2"/>
<polygon points="133.6,358 137,358 137,367.4 188.8,367.4 188.8,358 192.6,358 192.6,372.4 133.6,372.4" fill="url(#darkdots)" stroke="#111" stroke-width="1.3"/>
<path d="M137,358 L137,365.5 L188.8,365.5 L188.8,358" stroke="#111" stroke-width="1.1" fill="none"/>
<rect x="153.6" y="362.9" width="11.4" height="3" fill="#fff" stroke="#111" stroke-width="1.1"/>
<path d="M139.3,356 L147.9,356 L147.9,365 L139.3,365 Z" stroke="#111" stroke-width="1.2" fill="#ccc"/>
<circle cx="143.6" cy="360.5" r="2.6" stroke="#111" stroke-width="1.3" fill="none"/>
<path d="M180,357 L189.8,357 L189.8,365.5 L180,365.5 Z" stroke="#111" stroke-width="1.2" fill="#ccc"/>
<circle cx="184.9" cy="361.2" r="2.6" stroke="#111" stroke-width="1.3" fill="none"/>
<rect x="148.8" y="380" width="29.5" height="11.4" fill="none" stroke="#111" stroke-width="1.4"/>
<line x1="133.6" y1="372" x2="133.6" y2="396" stroke="#111" stroke-width="1.4"/>
<line x1="192.6" y1="358" x2="192.6" y2="396" stroke="#111" stroke-width="1.4"/>
<path d="M158.3,373.3 C161,381 168,389 172.6,395.2" stroke="#111" stroke-width="1.1" fill="none"/>
<path d="M162.5,373.3 C166,381 173,389 177,395.2" stroke="#111" stroke-width="1.1" fill="none"/>
<polygon points="181,357 287,347 287,353 196,361.5" fill="url(#hatch)" stroke="#111" stroke-width="1.1"/>
<path d="M180.6,357.5 L287,347.5" stroke="#111" stroke-width="1.6" fill="none"/>
<path d="M197.5,362 L286,354" stroke="#111" stroke-width="1.4" fill="none"/>
<rect x="199" y="331" width="35" height="3" fill="#222" stroke="#111" stroke-width="0.6"/>
<rect x="201.7" y="334" width="28.3" height="20" fill="none" stroke="#111" stroke-width="1.1"/>
<line x1="204" y1="337" x2="228" y2="337" stroke="#111" stroke-width="1.1"/>
<line x1="204" y1="340" x2="228" y2="340" stroke="#111" stroke-width="1.1"/>
<line x1="204" y1="343" x2="228" y2="343" stroke="#111" stroke-width="1.1"/>
<line x1="204" y1="346" x2="228" y2="346" stroke="#111" stroke-width="1.1"/>
<line x1="204" y1="349" x2="228" y2="349" stroke="#111" stroke-width="1.1"/>
<line x1="204" y1="352" x2="228" y2="352" stroke="#111" stroke-width="1.1"/>
<text x="0" y="0" font-size="10.67" font-weight="bold" text-anchor="start" transform="translate(244.2 350.6) rotate(-90)" style="" textLength="18.6" lengthAdjust="spacingAndGlyphs">1200</text>
<line x1="248" y1="332" x2="248" y2="349.5" stroke="#111" stroke-width="1" stroke-dasharray="3,1.5"/>
<path d="M246.2,334 L248,330.6 L249.8,334" stroke="#111" stroke-width="1" fill="none"/>
<text x="0" y="0" font-size="10.67" font-weight="bold" text-anchor="start" transform="translate(260 334) scale(0.8 1)" style="">4</text>
<line x1="262" y1="336" x2="248" y2="356" stroke="#111" stroke-width="0.9"/>
<text x="0" y="0" font-size="10.67" font-weight="bold" text-anchor="start" transform="translate(276 332) scale(0.8 1)" style="">5</text>
<line x1="278" y1="334" x2="268" y2="349" stroke="#111" stroke-width="0.9"/>
<rect x="286" y="344" width="11.3" height="62" fill="url(#conc)" stroke="#111" stroke-width="1.4"/>
<rect x="289" y="362" width="6" height="16" fill="url(#hatch)" stroke="#111" stroke-width="0.8"/>
<rect x="282" y="339" width="18" height="5" fill="url(#hatch)" stroke="#111" stroke-width="1.2"/>
<text x="0" y="0" font-size="10.67" font-weight="bold" text-anchor="start" transform="translate(303 409) scale(0.8 1)" style="">23</text>
<line x1="303" y1="404" x2="297" y2="400" stroke="#111" stroke-width="0.9"/>
<path d="M298,378 L306,386" stroke="#111" stroke-width="1" fill="none"/>
<path d="M302,386 L306,386 L306,382" stroke="#111" stroke-width="1" fill="none"/>
<path d="M217,386 L263.6,386 L262,397.3 L219,397.3 Z" stroke="#111" stroke-width="1.2" fill="none"/>
<text x="0" y="0" font-size="10.67" font-weight="bold" text-anchor="start" transform="translate(197 393) scale(0.8 1)" style="">17</text>
<line x1="209" y1="392" x2="217" y2="390" stroke="#111" stroke-width="0.9"/>
<text x="0" y="0" font-size="11.64" font-weight="bold" text-anchor="start" transform="translate(274 382.6) rotate(-90)" style="" textLength="15.6" lengthAdjust="spacingAndGlyphs">800</text>
<path d="M266,388 L272,386 L272,392" stroke="#111" stroke-width="1" fill="none"/>
<path d="M234,382 C228,372 220,368 210,369" stroke="#111" stroke-width="1.1" fill="none"/>
<path d="M214,366.5 L210,369 L214,372" stroke="#111" stroke-width="1" fill="none"/>
<polygon points="37,394.5 286,396.5 286,399.5 37,397.5" fill="#111" stroke="#111" stroke-width="0.5"/>
<polygon points="37,397.5 286,399.5 286,407.0 37,405.0" fill="url(#hatchd)" stroke="#111" stroke-width="1"/>
<line x1="36" y1="424" x2="297" y2="424" stroke="#111" stroke-width="1.3"/>
<rect x="36" y="406" width="9" height="18" fill="url(#conc)" stroke="#111" stroke-width="1"/>
<rect x="155.3" y="407" width="5.7" height="17" fill="url(#conc)" stroke="#111" stroke-width="1"/>
<rect x="169" y="407" width="6" height="13" fill="none" stroke="#111" stroke-width="1"/>
<rect x="220" y="407" width="41" height="17" fill="url(#vdash)" stroke="#111" stroke-width="1"/>
<rect x="286" y="406" width="11" height="18" fill="url(#conc)" stroke="#111" stroke-width="1"/>
<line x1="172" y1="424" x2="172" y2="430" stroke="#111" stroke-width="1"/>
<path d="M170.5,427 L172,430 L173.5,427" stroke="#111" stroke-width="0.8" fill="none"/>
<line x1="44" y1="424" x2="44" y2="429.5" stroke="#111" stroke-width="1"/>
<circle cx="44" cy="436" r="6.5" stroke="#111" stroke-width="1.5" fill="none"/>
<line x1="289" y1="424" x2="289" y2="436.5" stroke="#111" stroke-width="1"/>
<circle cx="289" cy="443" r="6.5" stroke="#111" stroke-width="1.5" fill="none"/>
<text x="0" y="0" font-size="10.67" font-weight="bold" text-anchor="start" transform="translate(21 390) scale(0.8 1)" style="">22</text>
<line x1="32" y1="386" x2="38.75" y2="380" stroke="#111" stroke-width="0.9"/>
<text x="0" y="0" font-size="10.67" font-weight="bold" text-anchor="start" transform="translate(177.7 348) scale(0.8 1)" style="">6</text>
<line x1="181" y1="349.5" x2="172.5" y2="364" stroke="#111" stroke-width="0.9"/>
<path d="M27,344 C20,346 19,352 25,355" stroke="#111" stroke-width="1.1" fill="none"/>
<path d="M22,354 L26,356 L27,352" stroke="#111" stroke-width="1" fill="none"/>
<path d="M50,351 C58,357 66,360 77,360" stroke="#111" stroke-width="1.1" fill="none"/>
<path d="M73,357.5 L77.5,360 L73,362.5" stroke="#111" stroke-width="1" fill="#111"/>
<text x="0" y="0" font-size="12.125" font-weight="bold" text-anchor="start" transform="translate(344.6 310.8) scale(0.65 1)" style="">е</text>
<path d="M351,303 Q359.5,308 350,313" stroke="#111" stroke-width="1.7" fill="none"/>
<text x="0" y="0" font-size="10.67" font-weight="bold" text-anchor="start" transform="translate(432 337) scale(0.8 1)" style="">19</text>
<line x1="432" y1="338" x2="414" y2="345" stroke="#111" stroke-width="0.9"/>
<rect x="354.6" y="320" width="68.9" height="4" fill="#eee" stroke="#111" stroke-width="1.4"/>
<line x1="356.25" y1="324" x2="356.25" y2="349" stroke="#111" stroke-width="1.6"/>
<line x1="421.6" y1="324" x2="421.6" y2="405" stroke="#111" stroke-width="1.6"/>
<path d="M340,347 L460,364.5" stroke="#111" stroke-width="1.3" fill="none"/>
<path d="M341,349.5 L458,367" stroke="#111" stroke-width="1.1" fill="none"/>
<polygon points="348,354 456,368.5 455,372.5 348,358.5" fill="url(#hatch)" stroke="#111" stroke-width="1.1"/>
<path d="M338.6,346 L345,346 L349,352 L349,361 L340,361 Z" stroke="#111" stroke-width="1" fill="url(#hatch)"/>
<path d="M447.6,368 L458,366 L459,371 L455,375.7 L447.6,375.7 Z" stroke="#111" stroke-width="1.1" fill="url(#hatch)"/>
<rect x="347.5" y="358.5" width="7.5" height="46.5" fill="url(#hatch)" stroke="#111" stroke-width="1.2"/>
<polygon points="447.6,372.9 452.4,372.9 452.4,378.6 501,378.6 501,372 505.7,372 505.7,383.3 447.6,383.3" fill="url(#hatch)" stroke="#111" stroke-width="1.3"/>
<rect x="471.4" y="377.4" width="10.6" height="3" fill="#fff" stroke="#111" stroke-width="1.1"/>
<rect x="463.8" y="392" width="26.7" height="9.4" fill="none" stroke="#111" stroke-width="1.4"/>
<line x1="447.6" y1="383" x2="447.6" y2="407" stroke="#111" stroke-width="1.4"/>
<path d="M475,384 C473,390 480,396 485,406" stroke="#111" stroke-width="1.2" fill="none"/>
<path d="M480,384 C478,390 486,396 491,406" stroke="#111" stroke-width="1.2" fill="none"/>
<path d="M492.7,367 L617.4,355.6" stroke="#111" stroke-width="1.3" fill="none"/>
<path d="M493,369.3 L612,358.5" stroke="#111" stroke-width="1.1" fill="none"/>
<polygon points="494,370.5 604,360.5 604,365.5 505,374.5" fill="url(#hatch)" stroke="#111" stroke-width="1.1"/>
<path d="M607,357 L618.7,355.6 L618.7,368.3 L610,368.3 Z" stroke="#111" stroke-width="1" fill="url(#hatch)"/>
<path d="M492.4,367 L505.7,366 L505.7,372 L497,373 L492.4,375 Z" stroke="#111" stroke-width="1.1" fill="url(#hatch)"/>
<line x1="505.7" y1="383" x2="505.7" y2="409" stroke="#111" stroke-width="1.4"/>
<rect x="506.7" y="338.3" width="35.6" height="2.7" fill="#222" stroke="#111" stroke-width="0.6"/>
<rect x="511.8" y="341" width="25.5" height="21" fill="none" stroke="#111" stroke-width="1.1"/>
<line x1="515" y1="341" x2="515" y2="362" stroke="#111" stroke-width="2"/>
<line x1="534" y1="341" x2="534" y2="362" stroke="#111" stroke-width="2"/>
<line x1="516" y1="344" x2="533" y2="344" stroke="#111" stroke-width="1.1"/>
<line x1="516" y1="347" x2="533" y2="347" stroke="#111" stroke-width="1.1"/>
<line x1="516" y1="350" x2="533" y2="350" stroke="#111" stroke-width="1.1"/>
<line x1="516" y1="353" x2="533" y2="353" stroke="#111" stroke-width="1.1"/>
<line x1="516" y1="356" x2="533" y2="356" stroke="#111" stroke-width="1.1"/>
<text x="0" y="0" font-size="10.67" font-weight="bold" text-anchor="start" transform="translate(565 330) scale(0.8 1)" style="">24</text>
<line x1="565" y1="331.5" x2="538.5" y2="351.8" stroke="#111" stroke-width="0.9"/>
<text x="0" y="0" font-size="10.67" font-weight="bold" text-anchor="start" transform="translate(573 343) scale(0.8 1)" style="">13</text>
<line x1="573" y1="345.4" x2="564" y2="358" stroke="#111" stroke-width="0.9"/>
<text x="0" y="0" font-size="10.67" font-weight="bold" text-anchor="start" transform="translate(596 340) scale(0.8 1)" style="">12</text>
<line x1="596" y1="344" x2="587" y2="364.5" stroke="#111" stroke-width="0.9"/>
<rect x="599.6" y="367" width="10.2" height="42" fill="url(#conc)" stroke="#111" stroke-width="1.2"/>
<rect x="603.4" y="373.4" width="3.8" height="17.8" fill="#222" stroke="#111" stroke-width="0.6"/>
<text x="0" y="0" font-size="10.67" font-weight="bold" text-anchor="start" transform="translate(615 404) scale(0.8 1)" style="">23</text>
<line x1="615" y1="400" x2="609.8" y2="401.4" stroke="#111" stroke-width="0.9"/>
<path d="M612.3,380 L626.3,385" stroke="#111" stroke-width="1" fill="none"/>
<path d="M622,382 L626.3,385 L621.5,387" stroke="#111" stroke-width="1" fill="none"/>
<path d="M531,395 L580.5,395 L576.7,407.8 L534.7,407.8 Z" stroke="#111" stroke-width="1.2" fill="none"/>
<text x="0" y="0" font-size="10.67" font-weight="bold" text-anchor="start" transform="translate(531 386) scale(0.8 1)" style="">17</text>
<line x1="537" y1="387" x2="543" y2="395" stroke="#111" stroke-width="0.9"/>
<path d="M566.5,393.8 C570,386 578,382 589.4,382.3" stroke="#111" stroke-width="1.1" fill="none"/>
<path d="M585,380 L589.4,382.3 L585,384.5" stroke="#111" stroke-width="1" fill="#111"/>
<polygon points="348,403.4 609.8,407.9 609.8,410.5 348,406.0" fill="#111" stroke="#111" stroke-width="0.5"/>
<polygon points="348,406 609.8,410.5 609.8,418.5 348,414" fill="url(#hatchd)" stroke="#111" stroke-width="1"/>
<line x1="348.75" y1="431.5" x2="609.8" y2="433.2" stroke="#111" stroke-width="1.3"/>
<rect x="348.75" y="415" width="8.75" height="15.5" fill="url(#conc)" stroke="#111" stroke-width="1"/>
<rect x="470" y="416" width="7.5" height="16.5" fill="url(#hatch)" stroke="#111" stroke-width="1"/>
<path d="M487.6,418 L487.6,425 Q490.8,428 494,425 L494,418" stroke="#111" stroke-width="1" fill="none"/>
<rect x="534.7" y="418" width="40.7" height="15.2" fill="url(#vdash)" stroke="#111" stroke-width="1"/>
<rect x="598.3" y="418" width="10.2" height="15.2" fill="url(#conc)" stroke="#111" stroke-width="1"/>
<line x1="490" y1="433" x2="490" y2="440" stroke="#111" stroke-width="1"/>
<path d="M488.5,437 L490,440 L491.5,437" stroke="#111" stroke-width="0.8" fill="none"/>
<line x1="352" y1="430.5" x2="352" y2="435" stroke="#111" stroke-width="1"/>
<circle cx="352" cy="441.5" r="6.5" stroke="#111" stroke-width="1.5" fill="none"/>
<line x1="603.5" y1="433.2" x2="603.5" y2="443.5" stroke="#111" stroke-width="1"/>
<circle cx="603.5" cy="450" r="6.5" stroke="#111" stroke-width="1.5" fill="none"/>
<text x="0" y="0" font-size="10.67" font-weight="bold" text-anchor="start" transform="translate(469 361) scale(0.8 1)" style="">6</text>
<line x1="471" y1="363" x2="466" y2="378" stroke="#111" stroke-width="0.9"/>
<text x="0" y="0" font-size="10.67" font-weight="bold" text-anchor="start" transform="translate(326 388) scale(0.8 1)" style="">22</text>
<line x1="338" y1="384" x2="348.75" y2="377.5" stroke="#111" stroke-width="0.9"/>
<text x="0" y="0" font-size="10.67" font-weight="bold" text-anchor="start" transform="translate(413 427.5) scale(0.8 1)" style="">2</text>
<line x1="418" y1="421" x2="432.5" y2="412.5" stroke="#111" stroke-width="0.9"/>
<path d="M360,394 L379,394.5" stroke="#111" stroke-width="1.1" fill="none"/>
<path d="M375,392 L380,394.5 L375,396.5" stroke="#111" stroke-width="1" fill="#111"/>
<path d="M330,410 C334,413 338,411 341,406" stroke="#111" stroke-width="1.1" fill="none"/>
</svg>
</body></html>
